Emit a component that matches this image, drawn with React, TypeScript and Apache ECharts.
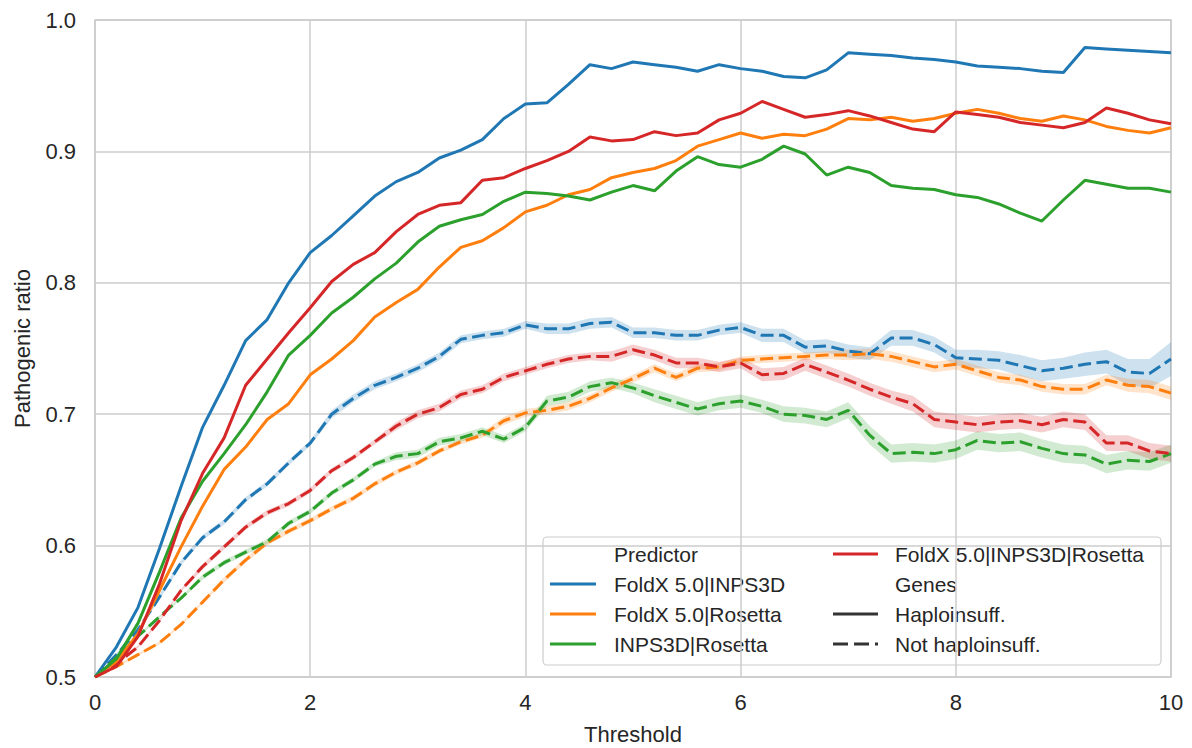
import React, { useEffect, useRef } from "react";
import * as echarts from "echarts";

const thresholds = [
  0, 0.2, 0.4, 0.6, 0.8, 1.0, 1.2, 1.4, 1.6, 1.8, 2.0,
  2.2, 2.4, 2.6, 2.8, 3.0, 3.2, 3.4, 3.6, 3.8, 4.0,
  4.2, 4.4, 4.6, 4.8, 5.0, 5.2, 5.4, 5.6, 5.8, 6.0,
  6.2, 6.4, 6.6, 6.8, 7.0, 7.2, 7.4, 7.6, 7.8, 8.0,
  8.2, 8.4, 8.6, 8.8, 9.0, 9.2, 9.4, 9.6, 9.8, 10.0,
];

const xTicks = [0, 2, 4, 6, 8, 10];
const yTicks = [0.5, 0.6, 0.7, 0.8, 0.9, 1.0];

// Haploinsufficient genes (solid)
const foldxInps3dHaplo = [
  0.500, 0.523, 0.553, 0.598, 0.645, 0.690, 0.722, 0.756, 0.772, 0.800, 0.823,
  0.836, 0.851, 0.866, 0.877, 0.884, 0.895, 0.901, 0.909, 0.925, 0.936,
  0.937, 0.951, 0.966, 0.963, 0.968, 0.966, 0.964, 0.961, 0.966, 0.963,
  0.961, 0.957, 0.956, 0.962, 0.975, 0.974, 0.973, 0.971, 0.970, 0.968,
  0.965, 0.964, 0.963, 0.961, 0.960, 0.979, 0.978, 0.977, 0.976, 0.975,
];
const foldxRosettaHaplo = [
  0.500, 0.512, 0.533, 0.566, 0.599, 0.630, 0.658, 0.675, 0.696, 0.708, 0.730,
  0.742, 0.756, 0.774, 0.785, 0.795, 0.812, 0.827, 0.832, 0.842, 0.854,
  0.859, 0.867, 0.871, 0.880, 0.884, 0.887, 0.893, 0.904, 0.909, 0.914,
  0.910, 0.913, 0.912, 0.917, 0.925, 0.924, 0.926, 0.923, 0.925, 0.929,
  0.932, 0.929, 0.925, 0.923, 0.927, 0.924, 0.919, 0.916, 0.914, 0.918,
];
const inps3dRosettaHaplo = [
  0.500, 0.514, 0.541, 0.580, 0.621, 0.649, 0.670, 0.692, 0.717, 0.745, 0.760,
  0.777, 0.789, 0.803, 0.815, 0.831, 0.843, 0.848, 0.852, 0.862, 0.869,
  0.868, 0.866, 0.863, 0.869, 0.874, 0.870, 0.885, 0.896, 0.890, 0.888,
  0.894, 0.904, 0.898, 0.882, 0.888, 0.884, 0.874, 0.872, 0.871, 0.867,
  0.865, 0.860, 0.853, 0.847, 0.863, 0.878, 0.875, 0.872, 0.872, 0.869,
];
const allThreeHaplo = [
  0.500, 0.508, 0.531, 0.571, 0.619, 0.655, 0.682, 0.722, 0.742, 0.762, 0.781,
  0.801, 0.814, 0.823, 0.839, 0.852, 0.859, 0.861, 0.878, 0.880, 0.887,
  0.893, 0.900, 0.911, 0.908, 0.909, 0.915, 0.912, 0.914, 0.924, 0.929,
  0.938, 0.932, 0.926, 0.928, 0.931, 0.927, 0.922, 0.917, 0.915, 0.930,
  0.928, 0.926, 0.922, 0.920, 0.918, 0.922, 0.933, 0.929, 0.924, 0.921,
];

// Not haploinsufficient genes (dashed)
const foldxInps3dNot = [
  0.500, 0.517, 0.536, 0.561, 0.587, 0.606, 0.618, 0.635, 0.647, 0.663, 0.678,
  0.700, 0.712, 0.722, 0.728, 0.735, 0.744, 0.757, 0.760, 0.762, 0.768,
  0.765, 0.765, 0.769, 0.770, 0.762, 0.762, 0.760, 0.760, 0.764, 0.766,
  0.760, 0.760, 0.751, 0.752, 0.748, 0.746, 0.758, 0.758, 0.753, 0.743,
  0.742, 0.741, 0.737, 0.733, 0.735, 0.738, 0.740, 0.732, 0.731, 0.742,
];
const foldxRosettaNot = [
  0.500, 0.508, 0.517, 0.526, 0.540, 0.557, 0.574, 0.589, 0.602, 0.611, 0.619,
  0.628, 0.636, 0.647, 0.656, 0.663, 0.672, 0.679, 0.684, 0.695, 0.701,
  0.703, 0.706, 0.712, 0.720, 0.727, 0.735, 0.728, 0.735, 0.736, 0.741,
  0.742, 0.743, 0.744, 0.745, 0.745, 0.746, 0.744, 0.740, 0.736, 0.738,
  0.733, 0.728, 0.726, 0.721, 0.719, 0.719, 0.726, 0.722, 0.721, 0.716,
];
const inps3dRosettaNot = [
  0.500, 0.515, 0.531, 0.546, 0.560, 0.576, 0.587, 0.595, 0.603, 0.617, 0.626,
  0.640, 0.650, 0.662, 0.668, 0.670, 0.679, 0.682, 0.687, 0.681, 0.690,
  0.710, 0.713, 0.721, 0.724, 0.720, 0.714, 0.709, 0.704, 0.708, 0.710,
  0.706, 0.700, 0.699, 0.696, 0.703, 0.684, 0.670, 0.671, 0.670, 0.673,
  0.680, 0.678, 0.679, 0.674, 0.670, 0.669, 0.662, 0.665, 0.664, 0.670,
];
const allThreeNot = [
  0.500, 0.510, 0.523, 0.543, 0.566, 0.584, 0.599, 0.614, 0.625, 0.632, 0.642,
  0.657, 0.667, 0.679, 0.691, 0.700, 0.705, 0.715, 0.719, 0.728, 0.733,
  0.738, 0.742, 0.744, 0.744, 0.749, 0.745, 0.739, 0.739, 0.736, 0.739,
  0.730, 0.731, 0.738, 0.732, 0.726, 0.719, 0.713, 0.708, 0.696, 0.694,
  0.692, 0.694, 0.695, 0.692, 0.696, 0.694, 0.678, 0.678, 0.672, 0.670,
];

// Confidence band half-widths for the dashed series
const foldxInps3dNotBand = [
  0.000, 0.001, 0.001, 0.002, 0.002, 0.002, 0.002, 0.002, 0.002, 0.002, 0.002,
  0.003, 0.003, 0.003, 0.003, 0.003, 0.003, 0.003, 0.003, 0.003, 0.003,
  0.004, 0.004, 0.004, 0.004, 0.004, 0.004, 0.004, 0.004, 0.004, 0.004,
  0.005, 0.005, 0.005, 0.005, 0.005, 0.005, 0.006, 0.006, 0.006, 0.006,
  0.007, 0.007, 0.008, 0.008, 0.008, 0.009, 0.009, 0.010, 0.011, 0.013,
];
const foldxRosettaNotBand = [
  0.000, 0.001, 0.001, 0.001, 0.001, 0.001, 0.002, 0.002, 0.002, 0.002, 0.002,
  0.002, 0.002, 0.002, 0.002, 0.002, 0.002, 0.002, 0.002, 0.003, 0.003,
  0.003, 0.003, 0.003, 0.003, 0.003, 0.003, 0.003, 0.003, 0.003, 0.003,
  0.003, 0.003, 0.003, 0.003, 0.004, 0.004, 0.004, 0.004, 0.004, 0.004,
  0.004, 0.004, 0.004, 0.004, 0.004, 0.004, 0.004, 0.005, 0.005, 0.005,
];
const inps3dRosettaNotBand = [
  0.000, 0.001, 0.001, 0.001, 0.001, 0.002, 0.002, 0.002, 0.002, 0.002, 0.002,
  0.002, 0.002, 0.002, 0.003, 0.003, 0.003, 0.003, 0.003, 0.003, 0.003,
  0.004, 0.004, 0.004, 0.004, 0.004, 0.005, 0.005, 0.005, 0.005, 0.005,
  0.005, 0.006, 0.006, 0.006, 0.006, 0.007, 0.007, 0.007, 0.007, 0.007,
  0.007, 0.007, 0.007, 0.007, 0.007, 0.007, 0.007, 0.007, 0.007, 0.007,
];
const allThreeNotBand = [
  0.000, 0.001, 0.001, 0.001, 0.001, 0.002, 0.002, 0.002, 0.002, 0.002, 0.002,
  0.002, 0.002, 0.002, 0.003, 0.003, 0.003, 0.003, 0.003, 0.003, 0.003,
  0.003, 0.003, 0.003, 0.004, 0.004, 0.004, 0.004, 0.004, 0.004, 0.004,
  0.005, 0.005, 0.005, 0.005, 0.005, 0.005, 0.005, 0.006, 0.006, 0.006,
  0.006, 0.006, 0.006, 0.006, 0.006, 0.006, 0.006, 0.006, 0.006, 0.006,
];

const predictors = [
  "FoldX 5.0|INPS3D",
  "FoldX 5.0|Rosetta",
  "INPS3D|Rosetta",
  "FoldX 5.0|INPS3D|Rosetta",
];
const colors = ["#1f77b4", "#ff7f0e", "#2ca02c", "#d62728"];
const haploSeries = [foldxInps3dHaplo, foldxRosettaHaplo, inps3dRosettaHaplo, allThreeHaplo];
const notSeries = [foldxInps3dNot, foldxRosettaNot, inps3dRosettaNot, allThreeNot];
const notBands = [foldxInps3dNotBand, foldxRosettaNotBand, inps3dRosettaNotBand, allThreeNotBand];

const FONT = "'Liberation Sans', Arial, Helvetica, sans-serif";
const TEXT = "#262626";
const GRID = "#cccccc";
const DASH = [13, 5.5];
const LEGEND_DASH = [15, 6];

function buildOption() {
  const series: any[] = [];
  // bands
  notSeries.forEach((mean, k) => {
    const hw = notBands[k];
    series.push({
      type: "custom",
      name: predictors[k] + " band",
      silent: true,
      z: 1,
      data: thresholds.map((x, i) => [x, mean[i] - hw[i], mean[i] + hw[i]]),
      encode: { x: 0, y: [1, 2] },
      renderItem: (params: any, api: any) => {
        if (params.dataIndex !== 0) return null;
        const pts: number[][] = [];
        for (let i = 0; i < thresholds.length; i++) {
          pts.push(api.coord([thresholds[i], mean[i] + hw[i]]));
        }
        for (let i = thresholds.length - 1; i >= 0; i--) {
          pts.push(api.coord([thresholds[i], mean[i] - hw[i]]));
        }
        return {
          type: "polygon",
          shape: { points: pts },
          style: { fill: colors[k], opacity: 0.22 },
        };
      },
    });
  });
  notSeries.forEach((arr, k) => {
    series.push({
      type: "line",
      name: predictors[k] + " Not haploinsuff.",
      data: thresholds.map((x, i) => [x, arr[i]]),
      showSymbol: false,
      symbol: "none",
      z: 2,
      lineStyle: { color: colors[k], width: 3, type: DASH, cap: "butt" },
    });
  });
  haploSeries.forEach((arr, k) => {
    series.push({
      type: "line",
      name: predictors[k] + " Haploinsuff.",
      data: thresholds.map((x, i) => [x, arr[i]]),
      showSymbol: false,
      symbol: "none",
      z: 3,
      lineStyle: { color: colors[k], width: 3, type: "solid" },
    });
  });

  // legend graphics
  const rowY = [554, 584, 614, 644];
  const leftLineX = [550, 596];
  const leftTextX = 614;
  const rightLineX = [833, 878];
  const rightTextX = 895;
  const legendFont = { fontSize: 21, fontFamily: FONT, fill: TEXT };
  const children: any[] = [
    {
      type: "rect",
      shape: { x: 543, y: 537, width: 618, height: 128, r: 4 },
      style: { fill: "rgba(255,255,255,0.8)", stroke: GRID, lineWidth: 1.2 },
    },
  ];
  const leftEntries: { label: string; color: string | null; dash: boolean }[] = [
    { label: "Predictor", color: null, dash: false },
    { label: predictors[0], color: colors[0], dash: false },
    { label: predictors[1], color: colors[1], dash: false },
    { label: predictors[2], color: colors[2], dash: false },
  ];
  const rightEntries: { label: string; color: string | null; dash: boolean }[] = [
    { label: predictors[3], color: colors[3], dash: false },
    { label: "Genes", color: null, dash: false },
    { label: "Haploinsuff.", color: "#333333", dash: false },
    { label: "Not haploinsuff.", color: "#333333", dash: true },
  ];
  const addCol = (entries: any[], lx: number[], tx: number) => {
    entries.forEach((e, i) => {
      if (e.color) {
        children.push({
          type: "line",
          shape: { x1: lx[0], y1: rowY[i], x2: lx[1], y2: rowY[i] },
          style: { stroke: e.color, lineWidth: 3, lineDash: e.dash ? LEGEND_DASH : null, lineCap: "butt" },
        });
      }
      children.push({
        type: "text",
        x: tx,
        y: rowY[i],
        style: { text: e.label, ...legendFont, textVerticalAlign: "middle", verticalAlign: "middle", align: "left" },
      });
    });
  };
  addCol(leftEntries, leftLineX, leftTextX);
  addCol(rightEntries, rightLineX, rightTextX);

  return {
    animation: false,
    backgroundColor: "#ffffff",
    grid: {
      left: 95,
      top: 20,
      width: 1076,
      height: 657,
      show: true,
      borderColor: GRID,
      borderWidth: 1.5,
      backgroundColor: "transparent",
      containLabel: false,
      outerBoundsMode: "none",
    },
    xAxis: {
      type: "value",
      min: xTicks[0],
      max: xTicks[xTicks.length - 1],
      interval: xTicks[1] - xTicks[0],
      name: "Threshold",
      nameLocation: "middle",
      nameGap: 46,
      nameTextStyle: { fontSize: 22, fontFamily: FONT, color: TEXT },
      axisLine: { show: false },
      axisTick: { show: false },
      axisLabel: { fontSize: 22, fontFamily: FONT, color: TEXT, margin: 14 },
      splitLine: { show: true, lineStyle: { color: GRID, width: 1.5 } },
    },
    yAxis: {
      type: "value",
      min: yTicks[0],
      max: yTicks[yTicks.length - 1],
      interval: 0.1,
      name: "Pathogenic ratio",
      nameLocation: "middle",
      nameRotate: 90,
      nameGap: 62,
      nameTextStyle: { fontSize: 22, fontFamily: FONT, color: TEXT },
      axisLine: { show: false },
      axisTick: { show: false },
      axisLabel: {
        fontSize: 22,
        fontFamily: FONT,
        color: TEXT,
        margin: 19,
        formatter: (v: number) => v.toFixed(1),
      },
      splitLine: { show: true, lineStyle: { color: GRID, width: 1.5 } },
    },
    series,
    graphic: [{ type: "group", z: 100, children }],
  };
}

export default function App() {
  const ref = useRef<HTMLDivElement>(null);
  useEffect(() => {
    if (!ref.current) return;
    const chart = echarts.init(ref.current, undefined, { renderer: "svg" });
    chart.setOption(buildOption() as any);
    return () => chart.dispose();
  }, []);
  return (
    <div
      ref={ref}
      style={{ position: "fixed", left: 0, top: 0, width: 1192, height: 748, background: "#fff" }}
    />
  );
}
